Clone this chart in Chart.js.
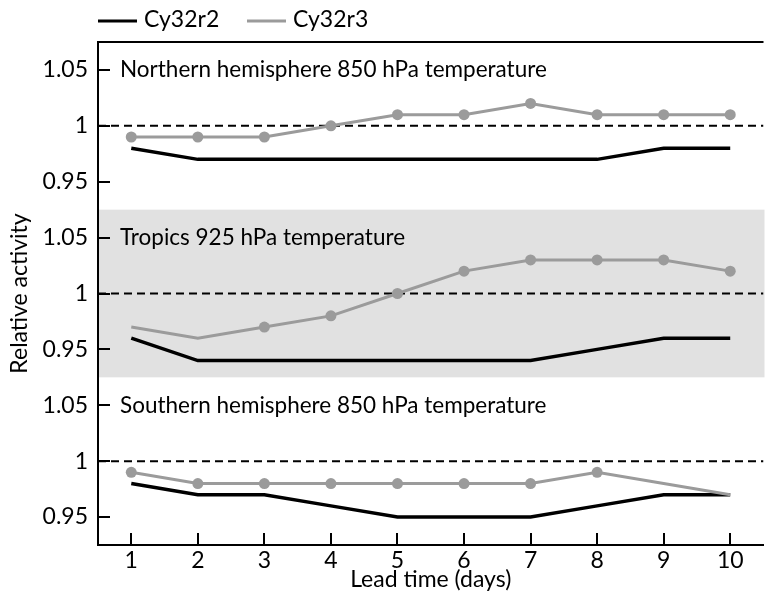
<!DOCTYPE html>
<html>
<head>
<meta charset="utf-8">
<script src="https://cdn.jsdelivr.net/npm/chart.js@4.4.0/dist/chart.umd.min.js"></script>
<style>
  body { margin: 0; background: #fff; }
  #wrap { width: 769px; height: 599px; }
</style>
</head>
<body>
<div id="wrap"><canvas id="myChart"></canvas></div>
<script>
// lead time (days)
let days = [1, 2, 3, 4, 5, 6, 7, 8, 9, 10];
let yTickLabels = ['0.95', '1', '1.05'];
let yTickValues = [0.95, 1, 1.05];

let panelTitles = [
  'Northern hemisphere 850 hPa temperature',
  'Tropics 925 hPa temperature',
  'Southern hemisphere 850 hPa temperature'
];

// Northern hemisphere 850 hPa
let nhR2 = [0.98, 0.97, 0.97, 0.97, 0.97, 0.97, 0.97, 0.97, 0.98, 0.98];
let nhR3 = [0.99, 0.99, 0.99, 1.00, 1.01, 1.01, 1.02, 1.01, 1.01, 1.01];
let nhDots = [1, 1, 1, 1, 1, 1, 1, 1, 1, 1];

// Tropics 925 hPa
let trR2 = [0.96, 0.94, 0.94, 0.94, 0.94, 0.94, 0.94, 0.95, 0.96, 0.96];
let trR3 = [0.97, 0.96, 0.97, 0.98, 1.00, 1.02, 1.03, 1.03, 1.03, 1.02];
let trDots = [0, 0, 1, 1, 1, 1, 1, 1, 1, 1];

// Southern hemisphere 850 hPa
let shR2 = [0.98, 0.97, 0.97, 0.96, 0.95, 0.95, 0.95, 0.96, 0.97, 0.97];
let shR3 = [0.99, 0.98, 0.98, 0.98, 0.98, 0.98, 0.98, 0.99, 0.98, 0.97];
let shDots = [1, 1, 1, 1, 1, 1, 1, 1, 0, 0];

let seriesNames = ['Cy32r2', 'Cy32r3'];

// panels are stacked on one y scale, each 0.15 tall
let step = 0.15;
let panels = [
  { r2: nhR2, r3: nhR3, dots: nhDots, shift: 2 * step },
  { r2: trR2, r3: trR3, dots: trDots, shift: step },
  { r2: shR2, r3: shR3, dots: shDots, shift: 0 }
];

let black = '#000000';
let grey = '#9b9b9b';
let fontName = "Lato, 'Open Sans', sans-serif";
let fontSize = 23;

Chart.defaults.font.family = fontName;
Chart.defaults.font.size = fontSize;
Chart.defaults.color = '#000';

let datasets = [];
panels.forEach((p) => {
  datasets.push({
    label: seriesNames[1],
    data: p.r3.map((v, i) => ({ x: days[i], y: v + p.shift })),
    borderColor: grey,
    backgroundColor: grey,
    borderWidth: 3,
    pointRadius: p.dots.map((d) => d ? 5.5 : 0),
    pointBorderWidth: 0,
    order: 1
  });
  datasets.push({
    label: seriesNames[0],
    data: p.r2.map((v, i) => ({ x: days[i], y: v + p.shift })),
    borderColor: black,
    backgroundColor: black,
    borderWidth: 3.5,
    pointRadius: 0,
    order: 2
  });
  // reference line at 1
  datasets.push({
    label: 'ref',
    data: [{ x: 0.5, y: 1 + p.shift }, { x: 10.5, y: 1 + p.shift }],
    borderColor: black,
    borderWidth: 2,
    borderDash: [8, 5],
    pointRadius: 0,
    order: 3
  });
});

let yTicks = [];
[0, step, 2 * step].forEach((s) => {
  yTickValues.forEach((v) => yTicks.push(+(v + s).toFixed(3)));
});

let panelPlugin = {
  id: 'panels',
  beforeDatasetsDraw(chart) {
    let { ctx, chartArea, scales: { y } } = chart;
    // shaded tropics band
    let top = y.getPixelForValue(1 + step + 0.075);
    let bot = y.getPixelForValue(1 + step - 0.075);
    ctx.save();
    ctx.fillStyle = '#e1e1e1';
    ctx.fillRect(chartArea.left + 1, top, chartArea.right - chartArea.left, bot - top);
    ctx.restore();
  },
  afterDatasetsDraw(chart) {
    let { ctx, chartArea, scales: { x, y } } = chart;
    ctx.save();
    // panel titles
    ctx.fillStyle = '#000';
    ctx.font = '22.5px ' + fontName;
    ctx.textBaseline = 'middle';
    panels.forEach((p, i) => {
      ctx.fillText(panelTitles[i], chartArea.left + 22, y.getPixelForValue(1.05 + p.shift));
    });
    // inward tick marks
    ctx.strokeStyle = '#000';
    ctx.lineWidth = 2;
    ctx.beginPath();
    yTicks.forEach((v) => {
      let py = Math.round(y.getPixelForValue(v));
      ctx.moveTo(chartArea.left, py);
      ctx.lineTo(chartArea.left + 12, py);
    });
    days.forEach((d) => {
      let px = Math.round(x.getPixelForValue(d));
      ctx.moveTo(px, chartArea.bottom);
      ctx.lineTo(px, chartArea.bottom - 12);
    });
    // top frame line
    ctx.moveTo(chartArea.left - 1, chartArea.top);
    ctx.lineTo(chartArea.right, chartArea.top);
    ctx.stroke();
    ctx.restore();
  },
  afterDraw(chart) {
    let { ctx } = chart;
    ctx.save();
    ctx.font = fontSize + 'px ' + fontName;
    ctx.textBaseline = 'middle';
    let items = [[seriesNames[0], black, 98], [seriesNames[1], grey, 247]];
    items.forEach(([name, col, lx]) => {
      ctx.strokeStyle = col;
      ctx.lineWidth = 3;
      ctx.beginPath();
      ctx.moveTo(lx, 21);
      ctx.lineTo(lx + 39, 21);
      ctx.stroke();
      ctx.fillStyle = '#000';
      ctx.fillText(name, lx + 46, 20);
    });
    ctx.restore();
  }
};

let ctx = document.getElementById('myChart').getContext('2d');

let chart = new Chart(ctx, {
  type: 'line',
  data: { datasets: datasets },
  plugins: [panelPlugin],
  options: {
    responsive: true,
    maintainAspectRatio: false,
    animation: false,
    layout: { padding: { top: 42, left: 0, right: 0, bottom: 0 } },
    plugins: {
      legend: { display: false },
      tooltip: { enabled: false }
    },
    scales: {
      x: {
        type: 'linear',
        min: 0.5,
        max: 10.5,
        grid: { display: false, drawTicks: false },
        border: { display: true, color: '#000', width: 2 },
        afterBuildTicks: (scale) => { scale.ticks = days.map((d) => ({ value: d })); },
        afterFit: (scale) => { scale.height = 54; },
        ticks: { padding: 2, callback: (v) => String(v), maxRotation: 0 },
        title: { display: true, text: 'Lead time (days)', padding: { top: 0, bottom: 6 } }
      },
      y: {
        type: 'linear',
        min: 1 - 0.075,
        max: 1 + 2 * step + 0.075,
        grid: { display: false, drawTicks: false },
        border: { display: true, color: '#000', width: 2 },
        afterBuildTicks: (scale) => { scale.ticks = yTicks.map((v) => ({ value: v })); },
        afterFit: (scale) => { scale.width = 98; },
        ticks: {
          padding: 10,
          callback: (v, i) => yTickLabels[i % 3]
        },
        title: { display: true, text: 'Relative activity', padding: { top: 6, bottom: 0 } }
      }
    }
  }
});
</script>
</body>
</html>
